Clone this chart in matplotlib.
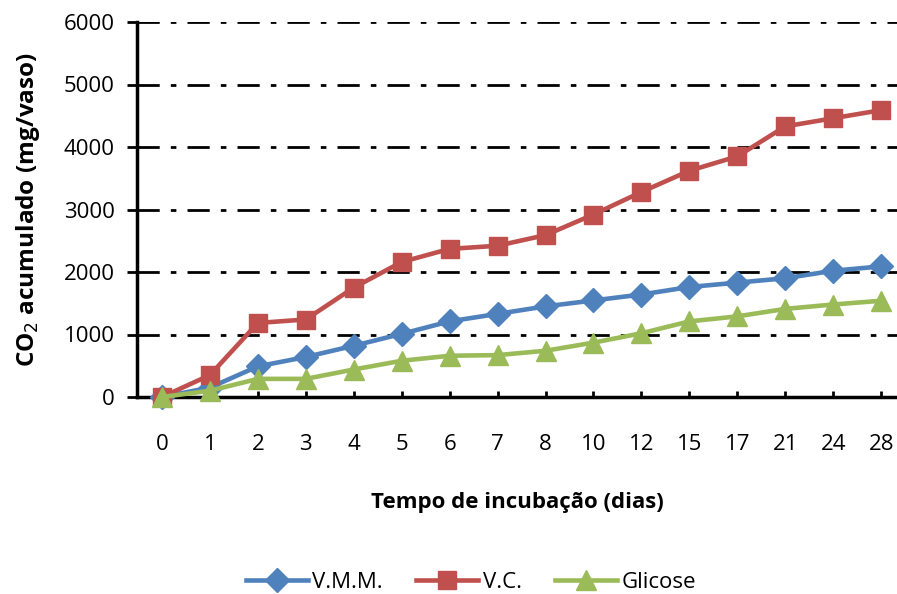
import matplotlib
matplotlib.use('Agg')
import matplotlib.pyplot as plt

plt.rcParams['font.family'] = ['Open Sans', 'DejaVu Sans']

# incubation days (categorical axis) and accumulated CO2 per pot
dias = ['0', '1', '2', '3', '4', '5', '6', '7', '8', '10', '12', '15', '17', '21', '24', '28']
vmm = [0, 150, 490, 640, 820, 1010, 1210, 1330, 1450, 1545, 1640, 1760, 1830, 1900, 2020, 2090]
vc = [0, 350, 1185, 1240, 1750, 2160, 2370, 2420, 2590, 2920, 3280, 3620, 3850, 4330, 4460, 4590]
glicose = [0, 100, 290, 290, 440, 580, 660, 670, 740, 870, 1020, 1210, 1290, 1410, 1480, 1540]

series = [('V.M.M.', vmm, '#4F81BD', 'D', 12),
          ('V.C.', vc, '#C0504D', 's', 13.5),
          ('Glicose', glicose, '#9BBB59', '^', 15)]

fig = plt.figure(figsize=(8.97, 5.94), dpi=100)
ax = fig.add_axes([137 / 897, 1 - 397 / 594, 760 / 897, 375 / 594])

x = list(range(len(dias)))
for nome, vals, cor, mk, ms in series:
    ax.plot(x, vals, color=cor, lw=3.3, marker=mk, ms=ms, label=nome,
            clip_on=False, zorder=3)

ax.set_ylim(0, 6000)
ax.set_yticks(range(0, 6001, 1000))
ax.set_xlim(-0.52, 15.33)
ax.set_xticks(x)
ax.set_xticklabels(dias)

for y in range(1000, 6001, 1000):
    ax.axhline(y, color='black', lw=2, linestyle=(0, (8, 4, 2, 4)), zorder=1)

for side in ['top', 'right']:
    ax.spines[side].set_visible(False)
ax.spines['left'].set_linewidth(2.5)
ax.spines['bottom'].set_linewidth(2.5)

ax.tick_params(axis='y', direction='out', length=7, width=2, labelsize=16, pad=9)
ax.tick_params(axis='x', direction='in', length=4, width=2, labelsize=16, pad=27)

ax.set_ylabel('CO$_2$ acumulado (mg/vaso)', fontsize=17.5, fontweight='bold', labelpad=16)
ax.set_xlabel('Tempo de incubação (dias)', fontsize=16, fontweight='bold', labelpad=26)

fig.legend(loc='lower center', bbox_to_anchor=(0.525, -0.032), ncol=3, frameon=False,
           fontsize=16, handlelength=2.8, columnspacing=1.5, handletextpad=0.2)

fig.savefig('out.png', dpi=100)
